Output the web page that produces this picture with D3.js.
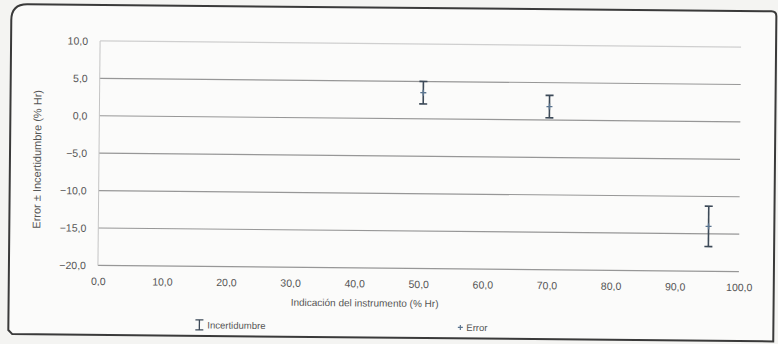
<!DOCTYPE html>
<html>
<head>
<meta charset="utf-8">
<script src="https://cdn.jsdelivr.net/npm/d3@7"></script>
<style>
  html, body { margin: 0; padding: 0; background: #f4f4f2; }
  svg { display: block; }
  text { font-family: "Liberation Sans", Arial, sans-serif; fill: #555; }
</style>
</head>
<body>
<svg id="chart" width="778" height="344"></svg>
<script>
// Calibration points: instrument reading (% Hr), error and expanded uncertainty (% Hr)
const readings = [50.5, 70.2, 95.2];
const errors = [3.5, 1.8, -14.0];
const uncertainties = [1.5, 1.5, 2.7];

const xTicks = [0, 10, 20, 30, 40, 50, 60, 70, 80, 90, 100];
const yTicks = [-20, -15, -10, -5, 0, 5, 10];

const xTitle = "Indicación del instrumento (% Hr)";
const yTitle = "Error ± Incertidumbre (% Hr)";
const legendLabels = ["Incertidumbre", "Error"];

const fmt = v => d3.format(".1f")(v).replace(".", ",");

const svg = d3.select("#chart");

// whole sheet is slightly tilted
const sheet = svg.append("g").attr("transform", "rotate(0.55, 420, 156)");

sheet.append("path")
  .attr("d", "M 26 8 L 770 8 Q 775 8 775 13 L 775 338 L 14 338 L 10 334 L 10 24 Q 10 8 26 8 Z")
  .attr("fill", "#fbfbfa")
  .attr("stroke", "#3a3a3a")
  .attr("stroke-width", 2);

const margin = { left: 99, right: 740, top: 44, bottom: 268.5 };

const x = d3.scaleLinear().domain([0, 100]).range([margin.left, margin.right]);
const y = d3.scaleLinear().domain([-20, 10]).range([margin.bottom, margin.top]);

// horizontal gridlines
sheet.append("g")
  .selectAll("line")
  .data(yTicks)
  .join("line")
  .attr("x1", margin.left)
  .attr("x2", margin.right)
  .attr("y1", d => y(d))
  .attr("y2", d => y(d))
  .attr("stroke", d => d === 10 ? "#cfcfcf" : "#979797")
  .attr("stroke-width", 1.2);

// vertical axis line
sheet.append("line")
  .attr("x1", margin.left).attr("x2", margin.left)
  .attr("y1", margin.top).attr("y2", margin.bottom)
  .attr("stroke", "#c4c4c4").attr("stroke-width", 1);

// y axis
const yAxis = d3.axisLeft(y).tickValues(yTicks).tickFormat(fmt).tickSize(0).tickPadding(12);
const gy = sheet.append("g").attr("transform", `translate(${margin.left},0)`).call(yAxis);
gy.select(".domain").remove();
gy.selectAll("text").style("font-size", "10.5px").attr("fill", "#5a5a5a");

// x axis
const xAxis = d3.axisBottom(x).tickValues(xTicks).tickFormat(fmt).tickSize(0).tickPadding(12);
const gx = sheet.append("g").attr("transform", `translate(0,${margin.bottom})`).call(xAxis);
gx.select(".domain").remove();
gx.selectAll("text").style("font-size", "10.5px").attr("fill", "#5a5a5a");

// axis titles
sheet.append("text")
  .attr("x", 366)
  .attr("y", 307)
  .attr("text-anchor", "middle")
  .style("font-size", "10px")
  .text(xTitle);

sheet.append("text")
  .attr("transform", "translate(41,163) rotate(-90)")
  .attr("text-anchor", "middle")
  .style("font-size", "11px")
  .text(yTitle);

// error bars
const points = readings.map((r, i) => ({ r, e: errors[i], u: uncertainties[i] }));
const bars = sheet.append("g").attr("stroke", "#3d4a58").attr("stroke-width", 1.6);
const cap = 4;
points.forEach(p => {
  const cx = x(p.r);
  bars.append("line").attr("x1", cx).attr("x2", cx).attr("y1", y(p.e + p.u)).attr("y2", y(p.e - p.u));
  bars.append("line").attr("x1", cx - cap).attr("x2", cx + cap).attr("y1", y(p.e + p.u)).attr("y2", y(p.e + p.u));
  bars.append("line").attr("x1", cx - cap).attr("x2", cx + cap).attr("y1", y(p.e - p.u)).attr("y2", y(p.e - p.u));
});

// error markers
const marks = sheet.append("g").attr("stroke", "#5b7590").attr("stroke-width", 1.4);
points.forEach(p => {
  const cx = x(p.r), cy = y(p.e);
  marks.append("line").attr("x1", cx - 3).attr("x2", cx + 3).attr("y1", cy).attr("y2", cy);
  marks.append("line").attr("x1", cx).attr("x2", cx).attr("y1", cy - 3).attr("y2", cy + 3);
});

// legend
const lg = sheet.append("g");
const lx = 201, ly = 327;
lg.append("line").attr("x1", lx).attr("x2", lx).attr("y1", ly - 5).attr("y2", ly + 5).attr("stroke", "#3d4a58").attr("stroke-width", 1.3);
lg.append("line").attr("x1", lx - 4).attr("x2", lx + 4).attr("y1", ly - 5).attr("y2", ly - 5).attr("stroke", "#3d4a58").attr("stroke-width", 1.3);
lg.append("line").attr("x1", lx - 4).attr("x2", lx + 4).attr("y1", ly + 5).attr("y2", ly + 5).attr("stroke", "#3d4a58").attr("stroke-width", 1.3);
lg.append("text").attr("x", lx + 8).attr("y", ly + 3.5).style("font-size", "9.5px").text(legendLabels[0]);

const ex = 462;
lg.append("line").attr("x1", ex - 2.5).attr("x2", ex + 2.5).attr("y1", ly).attr("y2", ly).attr("stroke", "#5b7590").attr("stroke-width", 1.2);
lg.append("line").attr("x1", ex).attr("x2", ex).attr("y1", ly - 2.5).attr("y2", ly + 2.5).attr("stroke", "#5b7590").attr("stroke-width", 1.2);
lg.append("text").attr("x", ex + 6).attr("y", ly + 3.5).style("font-size", "9.5px").text(legendLabels[1]);
</script>
</body>
</html>
